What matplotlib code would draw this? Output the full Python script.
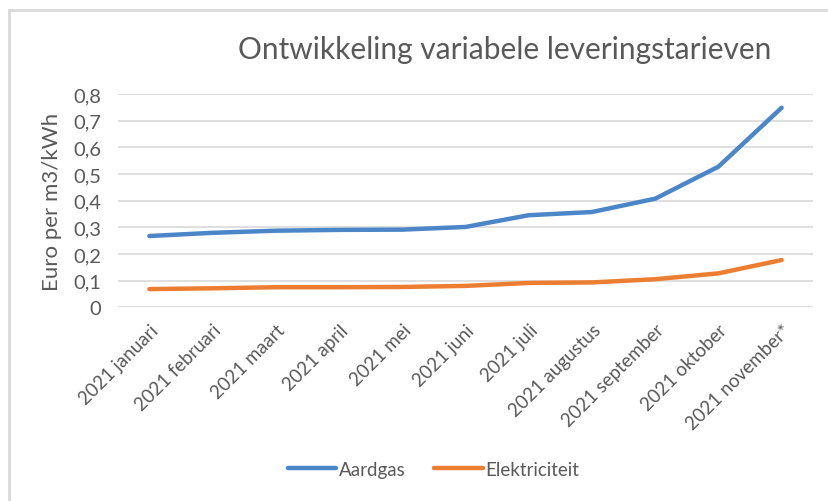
import matplotlib
matplotlib.use('Agg')
import matplotlib.pyplot as plt
from matplotlib.lines import Line2D

maanden = ['2021 januari', '2021 februari', '2021 maart', '2021 april', '2021 mei',
           '2021 juni', '2021 juli', '2021 augustus', '2021 september',
           '2021 oktober', '2021 november*']
aardgas = [0.267, 0.279, 0.287, 0.290, 0.291, 0.301, 0.345, 0.357, 0.407, 0.527, 0.748]
elektriciteit = [0.068, 0.071, 0.075, 0.075, 0.076, 0.080, 0.091, 0.093, 0.105, 0.127, 0.177]
yticks = [0, 0.1, 0.2, 0.3, 0.4, 0.5, 0.6, 0.7, 0.8]

plt.rcParams['font.family'] = ['Lato', 'DejaVu Sans']
grijs = '#595959'

fig = plt.figure(figsize=(8.29, 5.02), dpi=100)
ax = fig.add_axes([0.142, 0.386, 0.839, 0.425])

x = range(len(maanden))
ax.plot(x, aardgas, color='#4A86C8', lw=3.2, label='Aardgas', solid_capstyle='round')
ax.plot(x, elektriciteit, color='#ED7D31', lw=3.2, label='Elektriciteit', solid_capstyle='round')

ax.set_xlim(-0.5, len(maanden) - 0.5)
ax.set_ylim(0, 0.8)
ax.set_yticks(yticks)
ax.set_yticklabels([('%g' % v).replace('.', ',') for v in yticks], color=grijs, fontsize=14.5)
ax.set_xticks(list(x))
ax.set_xticklabels(maanden, rotation=45, ha='right', rotation_mode='anchor',
                   color=grijs, fontsize=13.5)
ax.tick_params(axis='y', length=0, pad=12)
ax.tick_params(axis='x', length=0, pad=10)
ax.grid(axis='y', color='#d9d9d9', lw=1.2)
ax.set_axisbelow(True)
for s in ax.spines.values():
    s.set_visible(False)
ax.set_ylabel('Euro per m3/kWh', color=grijs, fontsize=16, labelpad=8)

fig.text(0.609, 0.90, 'Ontwikkeling variabele leveringstarieven', ha='center', va='center',
         fontsize=21.5, color=grijs)

ax.legend(loc='center', bbox_to_anchor=(0.523, 0.063), bbox_transform=fig.transFigure,
          ncol=2, frameon=False, fontsize=13.5, labelcolor=grijs,
          handlelength=2.6, handletextpad=0.15, columnspacing=1.5)

# rand van het grafiekvlak (alleen boven en links zichtbaar)
fig.add_artist(Line2D([0.0105, 1.0], [0.979, 0.979], transform=fig.transFigure,
                      color='#d9d9d9', lw=2))
fig.add_artist(Line2D([0.0105, 0.0105], [0.0, 0.979], transform=fig.transFigure,
                      color='#d9d9d9', lw=2))

fig.savefig('out.png', dpi=100, facecolor='white')
